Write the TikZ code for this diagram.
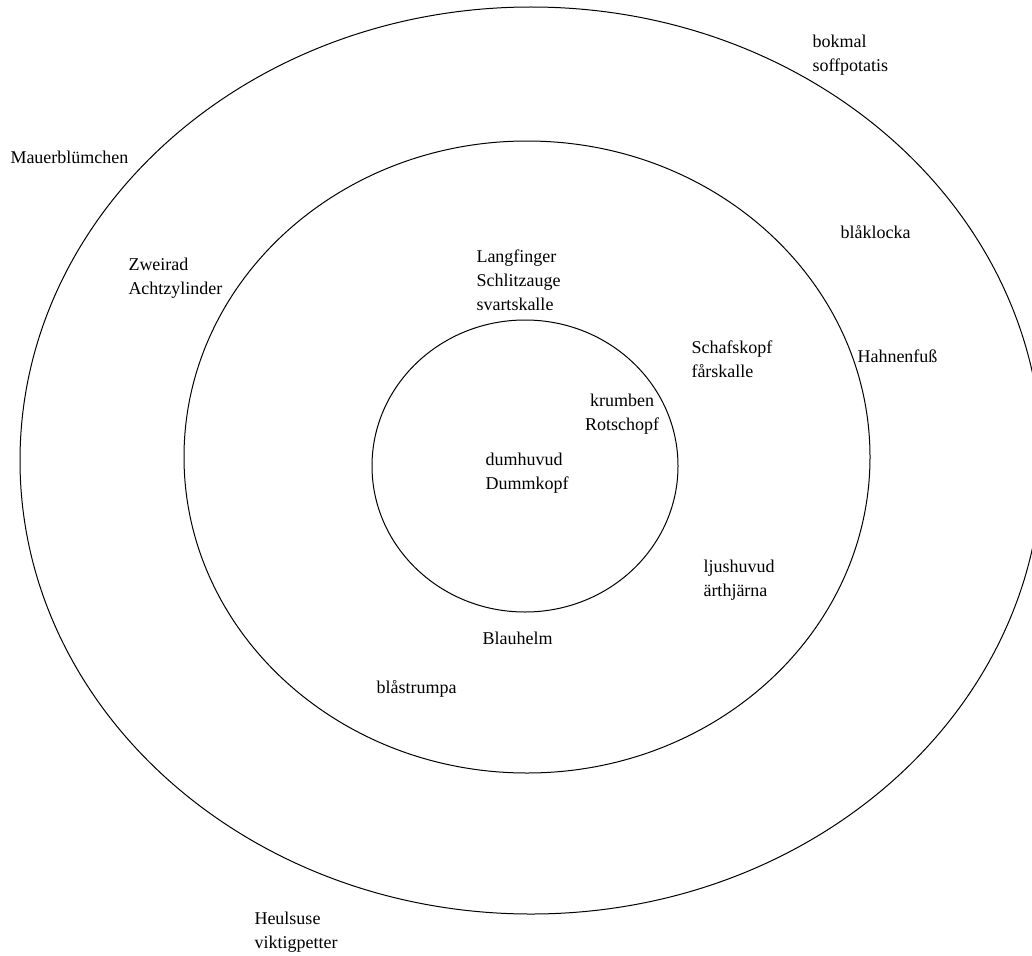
\documentclass[tikz,border=0pt]{standalone}
\usepackage{fontspec}
\setmainfont{Liberation Serif}
\usetikzlibrary{positioning}

\begin{document}
\begin{tikzpicture}[x=1pt,y=-1pt,line width=1pt,every node/.style={inner sep=0pt,anchor=west,align=left,font=\fontsize{18}{24}\selectfont}]
  \useasboundingbox (0,0) rectangle (1032,955);
  \clip (0,0) rectangle (1032,955);
  % rings
  \draw (531,460.5) ellipse [x radius=511pt,y radius=453.5pt];
  \draw (527,457) ellipse [x radius=343pt,y radius=316pt];
  \draw (525,466) ellipse [x radius=153pt,y radius=146pt];

  \node (bokmal) at (812,55) {bokmal\\soffpotatis};
  \node (mauer) at (10,157) {Mauerblümchen};
  \node (blaklocka) at (840,232) {blåklocka};
  \node (zweirad) at (128,278) {Zweirad\\Achtzylinder};
  \node (langfinger) at (476,280) {Langfinger\\Schlitzauge\\svartskalle};
  \node (schafskopf) at (691,359) {Schafskopf\\fårskalle};
  \node (hahnenfuss) at (857,356) {Hahnenfuß};
  \node[anchor=center,align=center] (krumben) at (622,414) {krumben\\Rotschopf};
  \node (dumhuvud) at (485,473) {dumhuvud\\Dummkopf};
  \node (ljushuvud) at (703,580) {ljushuvud\\ärthjärna};
  \node (blauhelm) at (482,638) {Blauhelm};
  \node (blastrumpa) at (376,689) {blåstrumpa};
  \node (heulsuse) at (254,932) {Heulsuse\\viktigpetter};
\end{tikzpicture}
\end{document}
